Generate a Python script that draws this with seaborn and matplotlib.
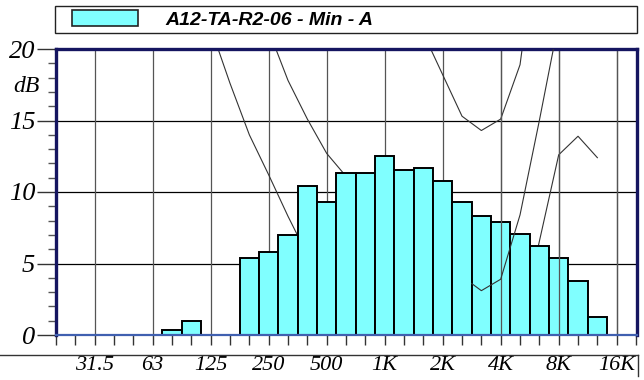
import matplotlib
matplotlib.use("Agg")
import matplotlib.pyplot as plt
from matplotlib.patches import Rectangle, Patch
from matplotlib.lines import Line2D
import seaborn as sns
import pandas as pd

# ---------------- data ----------------
bands = ["20", "25", "31.5", "40", "50", "63", "80", "100", "125", "160",
         "200", "250", "315", "400", "500", "630", "800", "1K", "1.25K", "1.6K",
         "2K", "2.5K", "3.15K", "4K", "5K", "6.3K", "8K", "10K", "12.5K", "16K", "20K"]
levels = [0, 0, 0, 0, 0, 0, 0.35, 1.0, 0, 0,
          5.4, 5.8, 7.0, 10.4, 9.3, 11.35, 11.35, 12.5, 11.55, 11.7,
          10.8, 9.3, 8.3, 7.9, 7.05, 6.25, 5.35, 3.75, 1.25, 0, 0]
octave_labels = ["31.5", "63", "125", "250", "500", "1K", "2K", "4K", "8K", "16K"]
y_labels = ["0", "5", "10", "15", "20"]
legend_label = "A12-TA-R2-06 - Min - A"

# reference curves: (band position, dB)
curve1_x = [8, 9, 10, 11, 12, 13]
curve1_y = [21.5, 17.6, 14.0, 11.2, 8.3, 5.6]
curve2_x = [11, 12, 13, 14, 15]
curve2_y = [21.3, 17.8, 15.1, 12.7, 11.1]
curve3_x = [19, 20, 21, 22, 23, 24, 25]
curve3_y = [21.1, 18.2, 15.3, 14.3, 15.1, 18.9, 29.0]
curve4_x = [21.5, 22, 23, 24, 25, 26]
curve4_y = [3.6, 3.1, 3.9, 8.4, 15.0, 21.9]
curve5_x = [24, 26, 27, 28]
curve5_y = [0.5, 12.6, 13.9, 12.4]

# ---------------- figure ----------------
W, H = 644, 380
fig = plt.figure(figsize=(W / 100, H / 100), dpi=100)
fig.patch.set_facecolor("white")
ax = fig.add_axes([56 / W, 1 - 335 / H, 581 / W, 286 / H])

df = pd.DataFrame({"band": bands, "level": levels})
sns.barplot(data=df, x="band", y="level", order=bands, color="#80ffff",
            saturation=1, edgecolor="black", linewidth=1.4, width=1.0,
            errorbar=None, ax=ax, zorder=1)

line_kw = dict(color="#333333", linewidth=0.8)
ax.plot(curve1_x, curve1_y, zorder=0.8, **line_kw)
ax.plot(curve2_x, curve2_y, zorder=0.8, **line_kw)
ax.plot(curve3_x, curve3_y, zorder=0.8, **line_kw)
ax.plot(curve5_x, curve5_y, zorder=0.8, **line_kw)
ax.plot(curve4_x, curve4_y, zorder=3, **line_kw)

ax.set_xlim(0, 30.05)
ax.set_ylim(0, 20)

major_pos = [bands.index(l) for l in octave_labels]
serif = dict(family="Liberation Serif", style="italic")
ax.set_xticks(major_pos)
ax.set_xticklabels(octave_labels, fontsize=16, **serif)
ax.set_xticks(range(len(bands)), minor=True)
ax.set_yticks([0, 5, 10, 15, 20])
ax.set_yticklabels(y_labels, fontsize=19, **serif)
ax.set_yticks(range(0, 21), minor=True)
ax.set_xlabel("")
ax.set_ylabel("")

ax.tick_params(axis="x", which="both", direction="out", length=7, width=1,
               color="#333333", pad=8)
ax.tick_params(axis="y", which="major", direction="out", length=14, width=1,
               color="#333333", pad=1)
ax.tick_params(axis="y", which="minor", direction="out", length=6, width=1,
               color="#555555")

# grid
ax.set_axisbelow(True)
ax.grid(False)
for yv in [5, 10, 15]:
    ax.axhline(yv, color="black", linewidth=0.9, zorder=0.5)
for xp in major_pos:
    ax.axvline(xp, color="#555555", linewidth=0.9, zorder=0.5)
for xp in major_pos[-3:]:
    ax.axvline(xp, ymax=0.995, color="#555555", linewidth=0.9, zorder=2)

for side in ["left", "top", "right"]:
    ax.spines[side].set_color("#151560")
    ax.spines[side].set_linewidth(2.4)
ax.spines["bottom"].set_color("#4060b0")
ax.spines["bottom"].set_linewidth(1.6)

ax.text(-0.028, 17.4, "dB", transform=ax.get_yaxis_transform(), ha="right",
        va="center", fontsize=17, **serif)

# line under the plot and right separator
fig.add_artist(Line2D([0, 638 / W], [1 - 355 / H, 1 - 355 / H], color="#333333",
                      linewidth=1.0, transform=fig.transFigure))
fig.add_artist(Line2D([638 / W, 638 / W], [1 - 355 / H, 1 - 376 / H], color="#333333",
                      linewidth=1.0, transform=fig.transFigure))

# legend
fig.add_artist(Rectangle((55 / W, 1 - 33 / H), 582 / W, 27 / H, transform=fig.transFigure,
                         facecolor="white", edgecolor="#222222", linewidth=1.0))
handle = Patch(facecolor="#80ffff", edgecolor="#222222", linewidth=1.2)
fig.legend([handle], [legend_label], loc="center left",
           bbox_to_anchor=(72 / W, 1 - 19.5 / H), frameon=False, borderpad=0,
           borderaxespad=0, handlelength=66 / 19.4, handleheight=17 / 19.4,
           handletextpad=27 / 19.4,
           prop=dict(family="Liberation Sans", weight="bold", style="italic", size=14))

fig.savefig("out.png", dpi=100, facecolor="white")
